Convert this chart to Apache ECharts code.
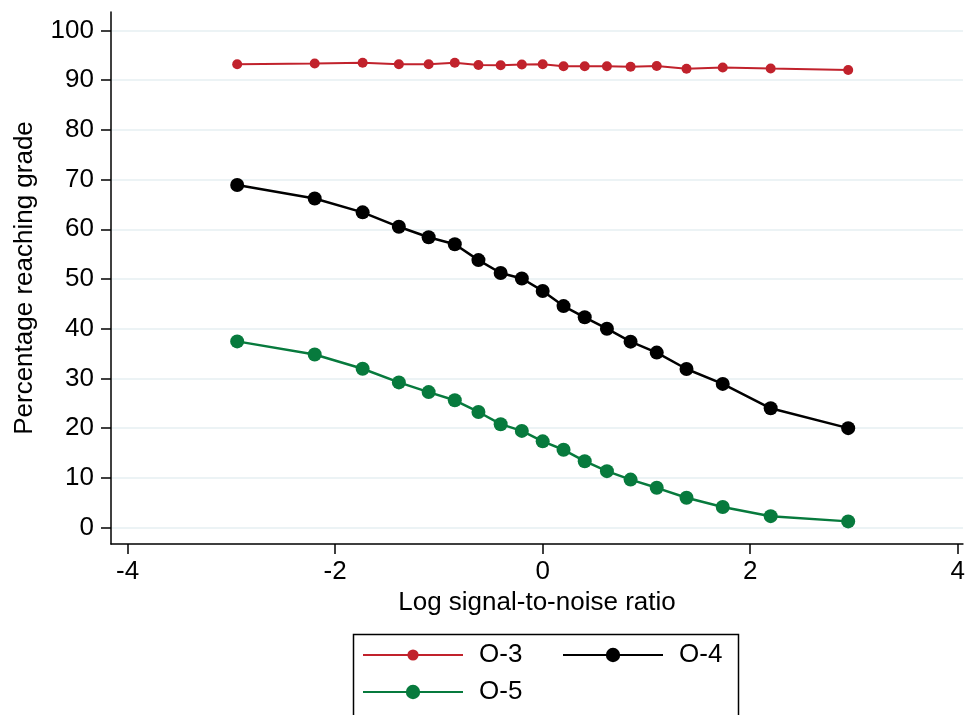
<!DOCTYPE html>
<html>
<head>
<meta charset="utf-8">
<title>Percentage reaching grade</title>
<script src="https://cdn.jsdelivr.net/npm/echarts@6/dist/echarts.min.js"></script>
<style>
  html, body { margin: 0; padding: 0; background: #fff; }
  #chart { width: 968px; height: 715px; }
</style>
</head>
<body>
<div id="chart"></div>
<script>
// Log signal-to-noise ratio at each evaluated point
const logSnr = [-2.944, -2.197, -1.735, -1.386, -1.099, -0.847, -0.619, -0.405, -0.201, 0,
                0.201, 0.405, 0.619, 0.847, 1.099, 1.386, 1.735, 2.197, 2.944];

// Percentage reaching each grade
const o3 = [93.2, 93.35, 93.5, 93.2, 93.2, 93.5, 93.05, 93.0, 93.15, 93.2,
            92.8, 92.8, 92.8, 92.7, 92.85, 92.3, 92.55, 92.35, 92.05];
const o4 = [68.9, 66.2, 63.4, 60.5, 58.4, 57.0, 53.8, 51.2, 50.1, 47.6,
            44.55, 42.3, 40.0, 37.4, 35.2, 31.9, 28.9, 24.0, 20.0];
const o5 = [37.45, 34.8, 31.95, 29.2, 27.25, 25.6, 23.25, 20.8, 19.45, 17.35,
            15.65, 13.35, 11.35, 9.65, 8.0, 6.0, 4.15, 2.3, 1.25];

// Axis tick values
const xTicks = [-4, -2, 0, 2, 4];
const yTicks = [0, 10, 20, 30, 40, 50, 60, 70, 80, 90, 100];

const FONT = "'Liberation Sans', Arial, Helvetica, sans-serif";
const FS = 26;
const pairs = ys => logSnr.map((x, i) => [x, ys[i]]);

const chart = echarts.init(document.getElementById('chart'), null, { renderer: 'canvas' });

const legendText = { fontSize: FS, color: '#000', fontFamily: FONT, padding: [0, 0, 0, 11] };

// One legend entry per box cell so each key keeps its own marker size
function legendEntry(name, left, top, markerHeight) {
  return {
    data: [name],
    orient: 'horizontal',
    left: left,
    top: top,
    padding: 0,
    itemWidth: 100,
    itemHeight: markerHeight,
    textStyle: legendText
  };
}

chart.setOption({
  animation: false,
  backgroundColor: '#ffffff',
  textStyle: { fontFamily: FONT, color: '#000' },
  grid: { left: 111, right: 4, top: 12, bottom: 171, containLabel: false },
  xAxis: {
    type: 'value',
    min: -4.16,
    max: 4.05,
    name: 'Log signal-to-noise ratio',
    nameLocation: 'middle',
    nameGap: 45,
    nameTextStyle: { fontSize: FS, color: '#000', fontFamily: FONT },
    axisLine: { show: true, onZero: false, lineStyle: { color: '#000', width: 1.5 } },
    axisTick: { show: true, length: 10, customValues: xTicks, lineStyle: { color: '#000', width: 1.5 } },
    axisLabel: { customValues: xTicks, fontSize: FS, color: '#000', margin: 15, fontFamily: FONT },
    splitLine: { show: false }
  },
  yAxis: {
    type: 'value',
    min: -3.3,
    max: 103.7,
    name: 'Percentage reaching grade',
    nameLocation: 'middle',
    nameGap: 73,
    nameTextStyle: { fontSize: FS, color: '#000', fontFamily: FONT },
    axisLine: { show: true, onZero: false, lineStyle: { color: '#000', width: 1.5 } },
    axisTick: { show: true, length: 10, customValues: yTicks, lineStyle: { color: '#000', width: 1.5 } },
    axisLabel: { customValues: yTicks, fontSize: FS, color: '#000', margin: 17, fontFamily: FONT },
    splitLine: { show: true, lineStyle: { color: '#e6eff2', width: 1.5 } }
  },
  legend: [
    legendEntry('O-3', 362, 642, 14),
    legendEntry('O-4', 562, 642, 18),
    legendEntry('O-5', 362, 679, 18)
  ],
  graphic: [
    {
      type: 'rect',
      left: 351,
      top: 632,
      shape: { width: 385, height: 100 },
      style: { fill: 'none', stroke: '#000', lineWidth: 1.5 },
      silent: true
    }
  ],
  series: [
    {
      name: 'O-3',
      type: 'line',
      data: pairs(o3),
      symbol: 'circle',
      symbolSize: 10,
      color: '#c1222c',
      lineStyle: { width: 2, color: '#c1222c' },
      itemStyle: { color: '#c1222c' },
      z: 3
    },
    {
      name: 'O-4',
      type: 'line',
      data: pairs(o4),
      symbol: 'circle',
      symbolSize: 14,
      color: '#000000',
      lineStyle: { width: 2.5, color: '#000000' },
      itemStyle: { color: '#000000' },
      z: 3
    },
    {
      name: 'O-5',
      type: 'line',
      data: pairs(o5),
      symbol: 'circle',
      symbolSize: 14,
      color: '#077a3d',
      lineStyle: { width: 2.5, color: '#077a3d' },
      itemStyle: { color: '#077a3d' },
      z: 3
    }
  ]
});
</script>
</body>
</html>
